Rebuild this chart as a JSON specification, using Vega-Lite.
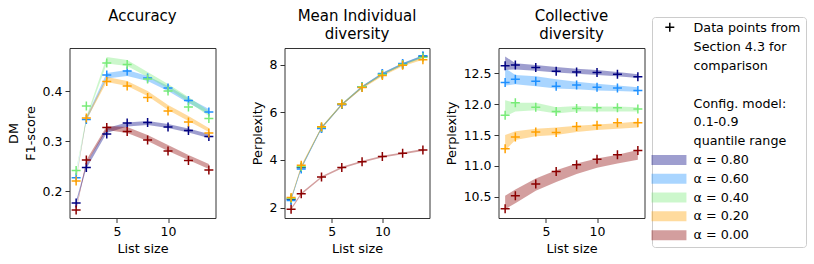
{
  "$schema": "https://vega.github.io/schema/vega-lite/v6.json",
  "padding": {"left": 6.5, "top": 8, "right": 5, "bottom": 5},
  "config": {
    "font": "DejaVu Sans",
    "view": {"stroke": "#333333", "strokeWidth": 1},
    "axis": {"grid": false, "domain": false, "tickSize": 4.5, "tickColor": "#333333", "tickWidth": 1, "labelFontSize": 12.5, "labelColor": "#000000", "titleFontSize": 12.8, "titleFontWeight": "normal", "titleColor": "#000000", "labelFont": "DejaVu Sans", "titleFont": "DejaVu Sans"},
    "axisX": {"labelPadding": 3, "titlePadding": 4.5},
    "axisY": {"labelPadding": 3, "titlePadding": 5, "titleLineHeight": 17},
    "title": {"fontSize": 15, "fontWeight": "normal", "font": "DejaVu Sans", "lineHeight": 17.6, "offset": 6, "color": "#000000"}
  },
  "data": {"values": [
    {"p":"acc","s":"α = 0.80","x":1,"y":0.176,"lo":0.172,"hi":0.18},
    {"p":"acc","s":"α = 0.80","x":2,"y":0.247,"lo":0.245,"hi":0.255},
    {"p":"acc","s":"α = 0.80","x":4,"y":0.314,"lo":0.316,"hi":0.326},
    {"p":"acc","s":"α = 0.80","x":6,"y":0.336,"lo":0.329,"hi":0.337},
    {"p":"acc","s":"α = 0.80","x":8,"y":0.337,"lo":0.332,"hi":0.34},
    {"p":"acc","s":"α = 0.80","x":10,"y":0.328,"lo":0.326,"hi":0.334},
    {"p":"acc","s":"α = 0.80","x":12,"y":0.321,"lo":0.317,"hi":0.325},
    {"p":"acc","s":"α = 0.80","x":14,"y":0.309,"lo":0.306,"hi":0.314},
    {"p":"acc","s":"α = 0.60","x":1,"y":0.2265,"lo":0.224,"hi":0.228},
    {"p":"acc","s":"α = 0.60","x":2,"y":0.343,"lo":0.34,"hi":0.348},
    {"p":"acc","s":"α = 0.60","x":4,"y":0.432,"lo":0.425,"hi":0.436},
    {"p":"acc","s":"α = 0.60","x":6,"y":0.44,"lo":0.43,"hi":0.442},
    {"p":"acc","s":"α = 0.60","x":8,"y":0.426,"lo":0.42,"hi":0.43},
    {"p":"acc","s":"α = 0.60","x":10,"y":0.406,"lo":0.4,"hi":0.41},
    {"p":"acc","s":"α = 0.60","x":12,"y":0.381,"lo":0.376,"hi":0.386},
    {"p":"acc","s":"α = 0.60","x":14,"y":0.358,"lo":0.354,"hi":0.364},
    {"p":"acc","s":"α = 0.40","x":1,"y":0.241,"lo":0.238,"hi":0.242},
    {"p":"acc","s":"α = 0.40","x":2,"y":0.37,"lo":0.342,"hi":0.348},
    {"p":"acc","s":"α = 0.40","x":4,"y":0.456,"lo":0.455,"hi":0.468},
    {"p":"acc","s":"α = 0.40","x":6,"y":0.453,"lo":0.45,"hi":0.462},
    {"p":"acc","s":"α = 0.40","x":8,"y":0.424,"lo":0.428,"hi":0.438},
    {"p":"acc","s":"α = 0.40","x":10,"y":0.4,"lo":0.405,"hi":0.414},
    {"p":"acc","s":"α = 0.40","x":12,"y":0.368,"lo":0.378,"hi":0.388},
    {"p":"acc","s":"α = 0.40","x":14,"y":0.345,"lo":0.35,"hi":0.36},
    {"p":"acc","s":"α = 0.20","x":1,"y":0.22,"lo":0.218,"hi":0.222},
    {"p":"acc","s":"α = 0.20","x":2,"y":0.346,"lo":0.342,"hi":0.348},
    {"p":"acc","s":"α = 0.20","x":4,"y":0.419,"lo":0.418,"hi":0.428},
    {"p":"acc","s":"α = 0.20","x":6,"y":0.41,"lo":0.41,"hi":0.42},
    {"p":"acc","s":"α = 0.20","x":8,"y":0.387,"lo":0.39,"hi":0.4},
    {"p":"acc","s":"α = 0.20","x":10,"y":0.36,"lo":0.362,"hi":0.372},
    {"p":"acc","s":"α = 0.20","x":12,"y":0.338,"lo":0.34,"hi":0.35},
    {"p":"acc","s":"α = 0.20","x":14,"y":0.316,"lo":0.318,"hi":0.326},
    {"p":"acc","s":"α = 0.00","x":1,"y":0.162,"lo":0.16,"hi":0.164},
    {"p":"acc","s":"α = 0.00","x":2,"y":0.262,"lo":0.255,"hi":0.262},
    {"p":"acc","s":"α = 0.00","x":4,"y":0.327,"lo":0.322,"hi":0.33},
    {"p":"acc","s":"α = 0.00","x":6,"y":0.319,"lo":0.316,"hi":0.328},
    {"p":"acc","s":"α = 0.00","x":8,"y":0.302,"lo":0.3,"hi":0.312},
    {"p":"acc","s":"α = 0.00","x":10,"y":0.28,"lo":0.28,"hi":0.292},
    {"p":"acc","s":"α = 0.00","x":12,"y":0.261,"lo":0.262,"hi":0.272},
    {"p":"acc","s":"α = 0.00","x":14,"y":0.242,"lo":0.244,"hi":0.254},

    {"p":"ind","s":"α = 0.80","x":1,"y":2.35,"lo":2.31,"hi":2.39},
    {"p":"ind","s":"α = 0.80","x":2,"y":3.68,"lo":3.64,"hi":3.72},
    {"p":"ind","s":"α = 0.80","x":4,"y":5.35,"lo":5.31,"hi":5.39},
    {"p":"ind","s":"α = 0.80","x":6,"y":6.33,"lo":6.29,"hi":6.37},
    {"p":"ind","s":"α = 0.80","x":8,"y":7.07,"lo":7.03,"hi":7.11},
    {"p":"ind","s":"α = 0.80","x":10,"y":7.62,"lo":7.58,"hi":7.66},
    {"p":"ind","s":"α = 0.80","x":12,"y":8.03,"lo":7.99,"hi":8.07},
    {"p":"ind","s":"α = 0.80","x":14,"y":8.35,"lo":8.31,"hi":8.39},
    {"p":"ind","s":"α = 0.60","x":1,"y":2.3,"lo":2.27,"hi":2.35},
    {"p":"ind","s":"α = 0.60","x":2,"y":3.62,"lo":3.6,"hi":3.68},
    {"p":"ind","s":"α = 0.60","x":4,"y":5.32,"lo":5.3,"hi":5.38},
    {"p":"ind","s":"α = 0.60","x":6,"y":6.33,"lo":6.3,"hi":6.37},
    {"p":"ind","s":"α = 0.60","x":8,"y":7.08,"lo":7.04,"hi":7.11},
    {"p":"ind","s":"α = 0.60","x":10,"y":7.64,"lo":7.59,"hi":7.67},
    {"p":"ind","s":"α = 0.60","x":12,"y":8.06,"lo":8.0,"hi":8.08},
    {"p":"ind","s":"α = 0.60","x":14,"y":8.38,"lo":8.32,"hi":8.4},
    {"p":"ind","s":"α = 0.40","x":1,"y":2.38,"lo":2.33,"hi":2.4},
    {"p":"ind","s":"α = 0.40","x":2,"y":3.72,"lo":3.66,"hi":3.74},
    {"p":"ind","s":"α = 0.40","x":4,"y":5.38,"lo":5.32,"hi":5.4},
    {"p":"ind","s":"α = 0.40","x":6,"y":6.35,"lo":6.3,"hi":6.38},
    {"p":"ind","s":"α = 0.40","x":8,"y":7.08,"lo":7.03,"hi":7.1},
    {"p":"ind","s":"α = 0.40","x":10,"y":7.6,"lo":7.56,"hi":7.64},
    {"p":"ind","s":"α = 0.40","x":12,"y":8.02,"lo":7.98,"hi":8.05},
    {"p":"ind","s":"α = 0.40","x":14,"y":8.32,"lo":8.28,"hi":8.36},
    {"p":"ind","s":"α = 0.20","x":1,"y":2.42,"lo":2.35,"hi":2.43},
    {"p":"ind","s":"α = 0.20","x":2,"y":3.78,"lo":3.68,"hi":3.78},
    {"p":"ind","s":"α = 0.20","x":4,"y":5.4,"lo":5.33,"hi":5.41},
    {"p":"ind","s":"α = 0.20","x":6,"y":6.35,"lo":6.3,"hi":6.37},
    {"p":"ind","s":"α = 0.20","x":8,"y":7.05,"lo":7.0,"hi":7.08},
    {"p":"ind","s":"α = 0.20","x":10,"y":7.55,"lo":7.52,"hi":7.6},
    {"p":"ind","s":"α = 0.20","x":12,"y":7.98,"lo":7.94,"hi":8.02},
    {"p":"ind","s":"α = 0.20","x":14,"y":8.22,"lo":8.22,"hi":8.3},
    {"p":"ind","s":"α = 0.00","x":1,"y":1.93,"lo":1.9,"hi":1.98},
    {"p":"ind","s":"α = 0.00","x":2,"y":2.58,"lo":2.54,"hi":2.62},
    {"p":"ind","s":"α = 0.00","x":4,"y":3.28,"lo":3.24,"hi":3.32},
    {"p":"ind","s":"α = 0.00","x":6,"y":3.68,"lo":3.64,"hi":3.72},
    {"p":"ind","s":"α = 0.00","x":8,"y":3.93,"lo":3.89,"hi":3.97},
    {"p":"ind","s":"α = 0.00","x":10,"y":4.15,"lo":4.1,"hi":4.18},
    {"p":"ind","s":"α = 0.00","x":12,"y":4.28,"lo":4.24,"hi":4.32},
    {"p":"ind","s":"α = 0.00","x":14,"y":4.42,"lo":4.38,"hi":4.46},

    {"p":"col","s":"α = 0.80","x":1,"y":12.62,"lo":12.55,"hi":12.77},
    {"p":"col","s":"α = 0.80","x":2,"y":12.63,"lo":12.56,"hi":12.66},
    {"p":"col","s":"α = 0.80","x":4,"y":12.59,"lo":12.54,"hi":12.63},
    {"p":"col","s":"α = 0.80","x":6,"y":12.53,"lo":12.51,"hi":12.6},
    {"p":"col","s":"α = 0.80","x":8,"y":12.52,"lo":12.49,"hi":12.57},
    {"p":"col","s":"α = 0.80","x":10,"y":12.51,"lo":12.47,"hi":12.55},
    {"p":"col","s":"α = 0.80","x":12,"y":12.48,"lo":12.45,"hi":12.52},
    {"p":"col","s":"α = 0.80","x":14,"y":12.44,"lo":12.42,"hi":12.48},
    {"p":"col","s":"α = 0.60","x":1,"y":12.35,"lo":12.3,"hi":12.58},
    {"p":"col","s":"α = 0.60","x":2,"y":12.4,"lo":12.32,"hi":12.47},
    {"p":"col","s":"α = 0.60","x":4,"y":12.37,"lo":12.29,"hi":12.45},
    {"p":"col","s":"α = 0.60","x":6,"y":12.29,"lo":12.25,"hi":12.4},
    {"p":"col","s":"α = 0.60","x":8,"y":12.31,"lo":12.24,"hi":12.36},
    {"p":"col","s":"α = 0.60","x":10,"y":12.27,"lo":12.22,"hi":12.33},
    {"p":"col","s":"α = 0.60","x":12,"y":12.26,"lo":12.21,"hi":12.3},
    {"p":"col","s":"α = 0.60","x":14,"y":12.22,"lo":12.2,"hi":12.27},
    {"p":"col","s":"α = 0.40","x":1,"y":11.82,"lo":11.8,"hi":12.06},
    {"p":"col","s":"α = 0.40","x":2,"y":12.02,"lo":11.88,"hi":12.02},
    {"p":"col","s":"α = 0.40","x":4,"y":11.95,"lo":11.9,"hi":12.02},
    {"p":"col","s":"α = 0.40","x":6,"y":11.88,"lo":11.85,"hi":11.95},
    {"p":"col","s":"α = 0.40","x":8,"y":11.93,"lo":11.88,"hi":11.97},
    {"p":"col","s":"α = 0.40","x":10,"y":11.94,"lo":11.88,"hi":11.96},
    {"p":"col","s":"α = 0.40","x":12,"y":11.94,"lo":11.88,"hi":11.96},
    {"p":"col","s":"α = 0.40","x":14,"y":11.92,"lo":11.88,"hi":11.95},
    {"p":"col","s":"α = 0.20","x":1,"y":11.28,"lo":11.25,"hi":11.5},
    {"p":"col","s":"α = 0.20","x":2,"y":11.47,"lo":11.42,"hi":11.56},
    {"p":"col","s":"α = 0.20","x":4,"y":11.55,"lo":11.48,"hi":11.6},
    {"p":"col","s":"α = 0.20","x":6,"y":11.54,"lo":11.5,"hi":11.62},
    {"p":"col","s":"α = 0.20","x":8,"y":11.64,"lo":11.55,"hi":11.65},
    {"p":"col","s":"α = 0.20","x":10,"y":11.66,"lo":11.58,"hi":11.67},
    {"p":"col","s":"α = 0.20","x":12,"y":11.7,"lo":11.6,"hi":11.69},
    {"p":"col","s":"α = 0.20","x":14,"y":11.7,"lo":11.62,"hi":11.72},
    {"p":"col","s":"α = 0.00","x":1,"y":10.31,"lo":10.3,"hi":10.52},
    {"p":"col","s":"α = 0.00","x":2,"y":10.52,"lo":10.4,"hi":10.62},
    {"p":"col","s":"α = 0.00","x":4,"y":10.71,"lo":10.6,"hi":10.8},
    {"p":"col","s":"α = 0.00","x":6,"y":10.91,"lo":10.74,"hi":10.93},
    {"p":"col","s":"α = 0.00","x":8,"y":11.02,"lo":10.87,"hi":11.04},
    {"p":"col","s":"α = 0.00","x":10,"y":11.11,"lo":10.97,"hi":11.12},
    {"p":"col","s":"α = 0.00","x":12,"y":11.18,"lo":11.04,"hi":11.18},
    {"p":"col","s":"α = 0.00","x":14,"y":11.25,"lo":11.1,"hi":11.26}
  ]},
  "hconcat": [
    {
      "width": 146, "height": 170,
      "title": {"text": ["Accuracy", " "]},
      "transform": [{"filter": "datum.p === 'acc'"}],
      "layer": [
        {
          "mark": {"type": "area", "fillOpacity": 0.38},
          "encoding": {
            "x": {"field": "x", "type": "quantitative", "scale": {"domain": [0.35, 14.65], "nice": false, "zero": false}, "axis": {"values": [5, 10], "title": "List size"}},
            "y": {"field": "lo", "type": "quantitative", "scale": {"domain": [0.146, 0.486], "nice": false, "zero": false}, "axis": {"values": [0.2, 0.3, 0.4], "format": ".1f", "title": ["DM", "F1-score"]}},
            "y2": {"field": "hi"},
            "fill": {"field": "s", "type": "nominal",
              "scale": {"domain": ["Data points from", "Section 4.3 for", "comparison", " ", "Config. model:", "0.1-0.9", "quantile range", "α = 0.80", "α = 0.60", "α = 0.40", "α = 0.20", "α = 0.00"],
                        "range": ["transparent", "transparent", "transparent", "transparent", "transparent", "transparent", "transparent", "#000080", "#1e90ff", "#78eb78", "#ffa000", "#8b0000"]},
              "legend": {"title": null, "orient": "none", "legendX": 582.5, "legendY": -31, "padding": 5, "strokeColor": "#cccccc", "cornerRadius": 3, "fillColor": "#ffffff", "symbolType": "M-3.5,-1H3.5V1H-3.5Z", "symbolSize": 100, "symbolOffset": 5.6, "symbolStrokeWidth": 0, "symbolOpacity": 0.38, "labelOffset": 18.3, "labelFontSize": 12.7, "labelFont": "DejaVu Sans", "labelColor": "#000000", "labelLimit": 300, "rowPadding": 4.8, "direction": "vertical", "columns": 1}}
          }
        },
        {
          "mark": {"type": "point", "size": 81, "strokeWidth": 1.5, "filled": false, "opacity": 1},
          "encoding": {
            "x": {"field": "x", "type": "quantitative", "scale": {"domain": [0.35, 14.65], "nice": false, "zero": false}, "axis": {"values": [5, 10], "title": "List size"}},
            "y": {"field": "y", "type": "quantitative", "scale": {"domain": [0.146, 0.486], "nice": false, "zero": false}, "axis": {"values": [0.2, 0.3, 0.4], "format": ".1f", "title": ["DM", "F1-score"]}},
            "stroke": {"field": "s", "type": "nominal", "scale": {"domain": ["α = 0.80", "α = 0.60", "α = 0.40", "α = 0.20", "α = 0.00"], "range": ["#000080", "#1e90ff", "#78eb78", "#ffa000", "#8b0000"]}, "legend": null},
            "shape": {"datum": "Data points", "type": "nominal", "scale": {"domain": ["Data points"], "range": ["M-1,0H1M0,-1V1"]},
              "legend": {"title": null, "orient": "none", "legendX": 594.8, "legendY": -26.3, "padding": 0, "symbolSize": 81, "symbolStrokeColor": "#000000", "symbolStrokeWidth": 1.5, "symbolFillColor": "transparent", "symbolOpacity": 1, "labelExpr": "''"}}
          }
        }
      ]
    },
    {
      "width": 145, "height": 170,
      "title": {"text": ["Mean Individual", "diversity"]},
      "transform": [{"filter": "datum.p === 'ind'"}],
      "layer": [
        {
          "mark": {"type": "area", "fillOpacity": 0.38},
          "encoding": {
            "x": {"field": "x", "type": "quantitative", "scale": {"domain": [0.35, 14.65], "nice": false, "zero": false}, "axis": {"values": [5, 10], "title": "List size"}},
            "y": {"field": "lo", "type": "quantitative", "scale": {"domain": [1.56, 8.71], "nice": false, "zero": false}, "axis": {"values": [2, 4, 6, 8], "title": "Perplexity"}},
            "y2": {"field": "hi"},
            "fill": {"field": "s", "type": "nominal",
              "scale": {"domain": ["Data points from", "Section 4.3 for", "comparison", " ", "Config. model:", "0.1-0.9", "quantile range", "α = 0.80", "α = 0.60", "α = 0.40", "α = 0.20", "α = 0.00"],
                        "range": ["transparent", "transparent", "transparent", "transparent", "transparent", "transparent", "transparent", "#000080", "#1e90ff", "#78eb78", "#ffa000", "#8b0000"]},
              "legend": {"title": null, "orient": "none", "legendX": 582.5, "legendY": -31, "padding": 5, "strokeColor": "#cccccc", "cornerRadius": 3, "fillColor": "#ffffff", "symbolType": "M-3.5,-1H3.5V1H-3.5Z", "symbolSize": 100, "symbolOffset": 5.6, "symbolStrokeWidth": 0, "symbolOpacity": 0.38, "labelOffset": 18.3, "labelFontSize": 12.7, "labelFont": "DejaVu Sans", "labelColor": "#000000", "labelLimit": 300, "rowPadding": 4.8, "direction": "vertical", "columns": 1}}
          }
        },
        {
          "mark": {"type": "point", "size": 81, "strokeWidth": 1.5, "filled": false, "opacity": 1},
          "encoding": {
            "x": {"field": "x", "type": "quantitative", "scale": {"domain": [0.35, 14.65], "nice": false, "zero": false}, "axis": {"values": [5, 10], "title": "List size"}},
            "y": {"field": "y", "type": "quantitative", "scale": {"domain": [1.56, 8.71], "nice": false, "zero": false}, "axis": {"values": [2, 4, 6, 8], "title": "Perplexity"}},
            "stroke": {"field": "s", "type": "nominal", "scale": {"domain": ["α = 0.80", "α = 0.60", "α = 0.40", "α = 0.20", "α = 0.00"], "range": ["#000080", "#1e90ff", "#78eb78", "#ffa000", "#8b0000"]}, "legend": null},
            "shape": {"datum": "Data points", "type": "nominal", "scale": {"domain": ["Data points"], "range": ["M-1,0H1M0,-1V1"]},
              "legend": {"title": null, "orient": "none", "legendX": 594.8, "legendY": -26.3, "padding": 0, "symbolSize": 81, "symbolStrokeColor": "#000000", "symbolStrokeWidth": 1.5, "symbolFillColor": "transparent", "symbolOpacity": 1, "labelExpr": "''"}}
          }
        }
      ]
    },
    {
      "width": 146, "height": 170,
      "title": {"text": ["Collective", "diversity"]},
      "transform": [{"filter": "datum.p === 'col'"}],
      "layer": [
        {
          "mark": {"type": "area", "fillOpacity": 0.38},
          "encoding": {
            "x": {"field": "x", "type": "quantitative", "scale": {"domain": [0.35, 14.65], "nice": false, "zero": false}, "axis": {"values": [5, 10], "title": "List size"}},
            "y": {"field": "lo", "type": "quantitative", "scale": {"domain": [10.16, 12.906], "nice": false, "zero": false}, "axis": {"values": [10.5, 11, 11.5, 12, 12.5], "format": ".1f", "title": "Perplexity"}},
            "y2": {"field": "hi"},
            "fill": {"field": "s", "type": "nominal",
              "scale": {"domain": ["Data points from", "Section 4.3 for", "comparison", " ", "Config. model:", "0.1-0.9", "quantile range", "α = 0.80", "α = 0.60", "α = 0.40", "α = 0.20", "α = 0.00"],
                        "range": ["transparent", "transparent", "transparent", "transparent", "transparent", "transparent", "transparent", "#000080", "#1e90ff", "#78eb78", "#ffa000", "#8b0000"]},
              "legend": {"title": null, "orient": "none", "legendX": 582.5, "legendY": -31, "padding": 5, "strokeColor": "#cccccc", "cornerRadius": 3, "fillColor": "#ffffff", "symbolType": "M-3.5,-1H3.5V1H-3.5Z", "symbolSize": 100, "symbolOffset": 5.6, "symbolStrokeWidth": 0, "symbolOpacity": 0.38, "labelOffset": 18.3, "labelFontSize": 12.7, "labelFont": "DejaVu Sans", "labelColor": "#000000", "labelLimit": 300, "rowPadding": 4.8, "direction": "vertical", "columns": 1}}
          }
        },
        {
          "mark": {"type": "point", "size": 81, "strokeWidth": 1.5, "filled": false, "opacity": 1},
          "encoding": {
            "x": {"field": "x", "type": "quantitative", "scale": {"domain": [0.35, 14.65], "nice": false, "zero": false}, "axis": {"values": [5, 10], "title": "List size"}},
            "y": {"field": "y", "type": "quantitative", "scale": {"domain": [10.16, 12.906], "nice": false, "zero": false}, "axis": {"values": [10.5, 11, 11.5, 12, 12.5], "format": ".1f", "title": "Perplexity"}},
            "stroke": {"field": "s", "type": "nominal", "scale": {"domain": ["α = 0.80", "α = 0.60", "α = 0.40", "α = 0.20", "α = 0.00"], "range": ["#000080", "#1e90ff", "#78eb78", "#ffa000", "#8b0000"]}, "legend": null},
            "shape": {"datum": "Data points", "type": "nominal", "scale": {"domain": ["Data points"], "range": ["M-1,0H1M0,-1V1"]},
              "legend": {"title": null, "orient": "none", "legendX": 594.8, "legendY": -26.3, "padding": 0, "symbolSize": 81, "symbolStrokeColor": "#000000", "symbolStrokeWidth": 1.5, "symbolFillColor": "transparent", "symbolOpacity": 1, "labelExpr": "''"}}
          }
        }
      ]
    }
  ],
  "spacing": 69,
  "bounds": "flush"
}
